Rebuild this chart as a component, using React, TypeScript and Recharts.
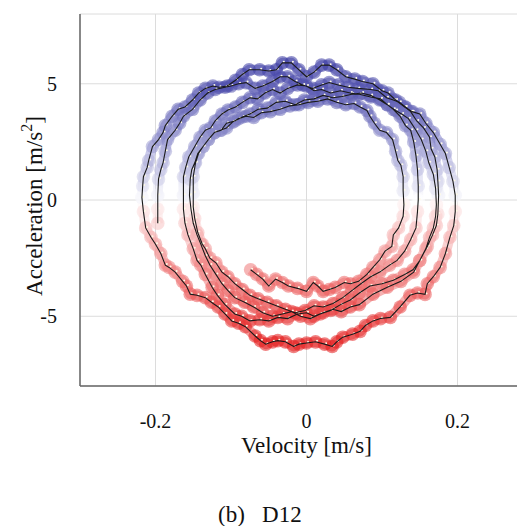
import React from 'react';
import { ScatterChart, Scatter, XAxis, YAxis, CartesianGrid, Label } from 'recharts';

// axis setup
const X_DOMAIN = [-0.3, 0.3];
const Y_DOMAIN = [-8, 8];
const X_TICKS = [-0.2, 0, 0.2];
const Y_TICKS = [-5, 0, 5];

// [velocity m/s, acceleration m/s^2], clockwise
const loopA = [
  [-0.218, 0.1], [-0.217, 0.6], [-0.216, 1.0], [-0.211, 1.4], [-0.209, 1.7], [-0.204, 2.3], [-0.196, 2.6],
  [-0.19, 2.9], [-0.187, 3.2], [-0.178, 3.6], [-0.17, 3.9], [-0.161, 4.0], [-0.151, 4.3], [-0.143, 4.6],
  [-0.134, 4.8], [-0.124, 4.9], [-0.116, 4.85], [-0.105, 4.9], [-0.094, 5.15], [-0.085, 5.4], [-0.076, 5.6],
  [-0.062, 5.6], [-0.05, 5.55], [-0.04, 5.6], [-0.032, 5.9], [-0.02, 5.9], [-0.01, 5.6], [0.0, 5.3],
  [0.01, 5.5], [0.02, 5.8], [0.03, 5.8], [0.04, 5.6], [0.052, 5.3], [0.064, 5.2], [0.074, 5.1], [0.088, 5.0],
  [0.1, 4.7], [0.108, 4.6], [0.118, 4.3], [0.13, 4.0], [0.14, 3.8], [0.15, 3.7], [0.158, 3.3], [0.168, 2.9],
  [0.177, 2.4], [0.184, 2.0], [0.189, 1.4], [0.194, 0.8], [0.197, 0.2], [0.197, -0.5], [0.195, -1.1],
  [0.19, -1.6], [0.184, -2.3], [0.177, -2.9], [0.168, -3.3], [0.16, -3.6], [0.157, -4.06], [0.147, -4.0],
  [0.137, -4.1], [0.124, -4.6], [0.111, -5.05], [0.098, -5.1], [0.088, -5.2], [0.078, -5.4], [0.071, -5.65],
  [0.061, -5.77], [0.048, -5.9], [0.04, -6.1], [0.034, -6.3], [0.024, -6.2], [0.012, -6.1], [0.0, -6.15],
  [-0.01, -6.2], [-0.017, -6.3], [-0.028, -6.1], [-0.038, -6.05], [-0.045, -6.1], [-0.054, -6.2],
  [-0.061, -6.05], [-0.068, -5.85], [-0.081, -5.45], [-0.09, -5.3], [-0.099, -5.2], [-0.108, -4.9],
  [-0.117, -4.6], [-0.126, -4.4], [-0.134, -4.2], [-0.145, -4.1], [-0.154, -4.05], [-0.159, -3.7],
  [-0.164, -3.5], [-0.174, -3.1], [-0.182, -2.9], [-0.187, -2.8], [-0.193, -2.3], [-0.2, -1.9],
  [-0.206, -1.6], [-0.213, -1.2], [-0.216, -0.5], [-0.218, 0.1],
];

const loopB = [
  [-0.197, -1.0], [-0.197, -0.4], [-0.197, 0.2], [-0.196, 0.9], [-0.193, 1.3], [-0.19, 1.6], [-0.187, 2.1],
  [-0.184, 2.6], [-0.174, 3.0], [-0.168, 3.3], [-0.163, 3.6], [-0.151, 3.9], [-0.141, 4.3], [-0.131, 4.6],
  [-0.121, 4.75], [-0.108, 4.85], [-0.1, 4.9], [-0.09, 5.0], [-0.08, 5.05], [-0.068, 4.8], [-0.058, 4.9],
  [-0.045, 5.1], [-0.035, 5.3], [-0.025, 5.3], [-0.015, 5.1], [-0.005, 4.95], [0.008, 4.8], [0.02, 4.95],
  [0.03, 5.05], [0.042, 4.95], [0.055, 4.85], [0.068, 4.8], [0.085, 4.75], [0.095, 4.7], [0.106, 4.4],
  [0.115, 4.3], [0.123, 4.2], [0.131, 4.0], [0.138, 3.8], [0.146, 3.4], [0.155, 3.1], [0.163, 2.7],
  [0.165, 2.2], [0.17, 1.85], [0.173, 1.3], [0.174, 0.8], [0.175, 0.2], [0.174, -0.6], [0.172, -1.1],
  [0.167, -1.5], [0.16, -2.0], [0.15, -2.6], [0.142, -3.1], [0.125, -3.5], [0.107, -3.75], [0.088, -4.05],
  [0.07, -4.5], [0.058, -4.6], [0.046, -4.8], [0.035, -4.7], [0.022, -4.85], [0.01, -5.0], [0.0, -4.85],
  [-0.012, -4.9], [-0.025, -5.1], [-0.038, -5.05], [-0.05, -5.2], [-0.062, -5.15], [-0.075, -5.2],
  [-0.086, -5.0], [-0.095, -4.9], [-0.108, -4.5], [-0.118, -4.1], [-0.125, -3.75], [-0.134, -3.2],
  [-0.14, -2.8], [-0.145, -2.6], [-0.15, -2.1], [-0.157, -1.5], [-0.161, -1.0], [-0.163, -0.4],
];

const loopC = [
  [-0.163, 0.2], [-0.163, 1.0], [-0.16, 1.4], [-0.156, 1.85], [-0.148, 2.3], [-0.141, 2.7], [-0.134, 3.0],
  [-0.127, 3.1], [-0.121, 3.4], [-0.112, 3.7], [-0.104, 3.87], [-0.094, 4.0], [-0.085, 4.2], [-0.075, 4.4],
  [-0.065, 4.35], [-0.055, 4.6], [-0.045, 4.75], [-0.035, 4.6], [-0.025, 4.8], [-0.012, 4.95], [0.0, 4.9],
  [0.01, 4.7], [0.02, 4.75], [0.032, 4.6], [0.045, 4.7], [0.058, 4.6], [0.07, 4.55], [0.085, 4.43],
  [0.098, 4.35], [0.107, 4.1], [0.118, 3.85], [0.126, 3.7], [0.135, 3.5], [0.145, 3.0], [0.152, 2.6],
  [0.158, 2.1], [0.162, 1.6], [0.168, 1.1], [0.171, 0.5], [0.172, -0.2], [0.171, -0.7], [0.168, -1.2],
  [0.163, -1.6], [0.158, -2.1], [0.15, -2.6], [0.141, -3.0], [0.13, -3.2], [0.115, -3.45], [0.1, -3.6],
  [0.084, -3.7], [0.07, -4.0], [0.058, -4.3], [0.045, -4.5], [0.032, -4.75], [0.018, -4.9], [0.005, -5.1],
  [-0.008, -5.0], [-0.02, -4.8], [-0.032, -4.9], [-0.045, -5.0], [-0.058, -4.85], [-0.07, -4.6],
  [-0.082, -4.4], [-0.095, -4.2], [-0.104, -3.9], [-0.112, -3.6], [-0.12, -3.2], [-0.128, -2.8],
  [-0.134, -2.4], [-0.14, -1.9], [-0.145, -1.5], [-0.15, -1.0], [-0.153, -0.4],
];

const loopD = [
  [-0.155, 0.2], [-0.154, 0.9], [-0.152, 1.3], [-0.148, 1.6], [-0.144, 2.0], [-0.137, 2.3], [-0.13, 2.6],
  [-0.122, 2.9], [-0.113, 3.0], [-0.106, 3.3], [-0.095, 3.4], [-0.085, 3.57], [-0.075, 3.7], [-0.064, 3.9],
  [-0.052, 3.95], [-0.04, 4.2], [-0.028, 4.25], [-0.015, 4.1], [-0.003, 4.3], [0.01, 4.35], [0.022, 4.5],
  [0.035, 4.4], [0.047, 4.45], [0.06, 4.55], [0.073, 4.6], [0.085, 4.5], [0.097, 4.3], [0.107, 4.1],
  [0.115, 3.9], [0.124, 3.6], [0.131, 3.2], [0.138, 3.0], [0.142, 2.5], [0.145, 1.9], [0.147, 1.3],
  [0.148, 0.6], [0.148, 0.0], [0.147, -0.5], [0.145, -1.2], [0.138, -1.7], [0.13, -2.2], [0.12, -2.6],
  [0.11, -2.8], [0.097, -3.1], [0.085, -3.3], [0.072, -3.6], [0.06, -3.9], [0.048, -4.2], [0.035, -4.45],
  [0.022, -4.6], [0.01, -4.55], [-0.002, -4.75], [-0.015, -4.85], [-0.028, -4.7], [-0.04, -4.55],
  [-0.052, -4.4], [-0.064, -4.25], [-0.075, -4.1], [-0.085, -3.85], [-0.095, -3.6], [-0.104, -3.3],
  [-0.112, -3.1], [-0.12, -2.7], [-0.128, -2.5], [-0.134, -2.1], [-0.138, -1.9], [-0.144, -1.4],
  [-0.148, -0.8], [-0.15, -0.3],
];

const loopE = [
  [-0.15, 0.3], [-0.15, 1.0], [-0.147, 1.6], [-0.143, 2.0], [-0.137, 2.3], [-0.13, 2.6], [-0.122, 2.9],
  [-0.114, 3.0], [-0.106, 3.1], [-0.098, 3.35], [-0.09, 3.5], [-0.08, 3.6], [-0.07, 3.55], [-0.06, 3.75],
  [-0.048, 3.8], [-0.035, 3.9], [-0.022, 4.05], [-0.01, 4.1], [0.002, 4.2], [0.015, 4.25], [0.028, 4.35],
  [0.04, 4.2], [0.052, 4.1], [0.063, 4.15], [0.071, 4.0], [0.08, 3.85], [0.084, 3.6], [0.09, 3.3],
  [0.097, 3.0], [0.106, 2.9], [0.114, 2.6], [0.118, 2.1], [0.121, 1.7], [0.125, 1.5], [0.128, 1.0],
  [0.128, 0.4], [0.129, -0.2], [0.128, -0.7], [0.122, -1.2], [0.115, -1.5], [0.113, -2.0], [0.104, -2.2],
  [0.097, -2.57], [0.088, -2.9], [0.08, -3.2], [0.069, -3.5], [0.058, -3.6], [0.05, -3.55], [0.038, -3.76],
  [0.03, -3.85], [0.022, -3.93], [0.015, -3.7], [0.009, -3.55], [0.0, -3.93], [-0.012, -3.8],
  [-0.024, -3.7], [-0.032, -3.55], [-0.041, -3.4], [-0.05, -3.7], [-0.058, -3.4], [-0.066, -3.2],
  [-0.074, -3.0],
];

const toPoints = (arr: number[][]) => arr.map(([v, a]) => ({ v, a }));
const outerLoop = toPoints(loopA);
const spiral = toPoints([...loopB, ...loopC, ...loopD, ...loopE]);

const FONT = '"Liberation Serif", "Times New Roman", serif';
const MARGIN = { top: 6, right: 5, bottom: 0, left: 0 };
const CHART_H = 460;
const X_AXIS_H = 82;
const PLOT_H = CHART_H - MARGIN.top - X_AXIS_H;

const BLUE = [52, 52, 160];
const RED = [228, 30, 30];

function accColor(a: number) {
  const t = Math.pow(Math.min(1, Math.abs(a) / 6), 0.75);
  const base = a >= 0 ? BLUE : RED;
  const c = base.map((ch) => Math.round(255 + (ch - 255) * t));
  return `rgb(${c[0]},${c[1]},${c[2]})`;
}

const yPix = (a: number) => MARGIN.top + ((Y_DOMAIN[1] - a) / (Y_DOMAIN[1] - Y_DOMAIN[0])) * PLOT_H;

const Bead = (props: any) => {
  const { cx, cy, payload } = props;
  if (cx == null || cy == null) return <g />;
  return <circle cx={cx} cy={cy} r={6.8} fill={accColor(payload.a)} fillOpacity={0.55} />;
};

const Speck = (props: any) => {
  const { cx, cy } = props;
  if (cx == null || cy == null) return <g />;
  return <circle cx={cx + 1.5} cy={cy - 1} r={1} fill="#fffbe6" />;
};

const Nothing = () => <g />;

const YTitle = (props: any) => {
  const vb = props.viewBox || { x: 0, y: MARGIN.top, width: 72, height: PLOT_H };
  const cx = vb.x + 34;
  const cy = vb.y + vb.height / 2 + 6;
  return (
    <text
      x={cx}
      y={cy}
      transform={`rotate(-90 ${cx} ${cy})`}
      textAnchor="middle"
      fontFamily={FONT}
      fontSize={23}
      fill="#111"
    >
      Acceleration [m/s
      <tspan dy={-10} fontSize={16}>2</tspan>
      <tspan dy={10}>]</tspan>
    </text>
  );
};

const tickStyle = { fontFamily: FONT, fontSize: 20, fill: '#111' };
const bandLine = { stroke: 'url(#accGrad)', strokeWidth: 10, strokeOpacity: 0.45, strokeLinejoin: 'round' };
const blackLine = { stroke: '#1a1a1a', strokeWidth: 1.1 };

export default function App() {
  return (
    <div style={{ position: 'relative', width: 517, height: 518, overflow: 'hidden', background: '#fff' }}>
      <ScatterChart width={530} height={CHART_H} margin={MARGIN}>
        <defs>
          <linearGradient id="accGrad" gradientUnits="userSpaceOnUse" x1="0" x2="0" y1={yPix(6)} y2={yPix(-6)}>
            <stop offset="0%" stopColor="rgb(52,52,160)" />
            <stop offset="30%" stopColor="rgb(115,115,200)" />
            <stop offset="50%" stopColor="#ffffff" />
            <stop offset="70%" stopColor="rgb(240,130,130)" />
            <stop offset="100%" stopColor="rgb(228,30,30)" />
          </linearGradient>
        </defs>
        <CartesianGrid stroke="#dcdcdc" strokeWidth={1} />
        <XAxis
          dataKey="v"
          type="number"
          domain={X_DOMAIN}
          ticks={X_TICKS}
          allowDataOverflow
          height={X_AXIS_H}
          tickLine={false}
          tickSize={0}
          tickMargin={28}
          axisLine={{ stroke: '#666', strokeWidth: 1.5 }}
          tick={tickStyle}
          label={{ value: 'Velocity [m/s]', position: 'insideBottom', offset: 15, style: { fontFamily: FONT, fontSize: 23, fill: '#111' } }}
        />
        <XAxis
          xAxisId="top"
          orientation="top"
          type="number"
          domain={X_DOMAIN}
          ticks={X_TICKS}
          height={0}
          tick={false}
          tickLine={false}
          axisLine={{ stroke: '#777', strokeWidth: 1.5 }}
        />
        <YAxis
          dataKey="a"
          type="number"
          domain={Y_DOMAIN}
          ticks={Y_TICKS}
          allowDataOverflow
          width={72}
          tickLine={false}
          tickSize={0}
          tickMargin={23}
          axisLine={{ stroke: '#666', strokeWidth: 1.5 }}
          tick={tickStyle}
        >
          <Label content={YTitle} />
        </YAxis>
        <Scatter data={outerLoop} isAnimationActive={false} line={bandLine} shape={Bead} />
        <Scatter data={spiral} isAnimationActive={false} line={bandLine} shape={Bead} />
        <Scatter data={outerLoop} isAnimationActive={false} shape={Speck} />
        <Scatter data={spiral} isAnimationActive={false} shape={Speck} />
        <Scatter data={outerLoop} isAnimationActive={false} line={blackLine} shape={Nothing} />
        <Scatter data={spiral} isAnimationActive={false} line={blackLine} shape={Nothing} />
      </ScatterChart>
      <div
        style={{
          position: 'absolute',
          left: 210,
          top: 494,
          fontFamily: FONT,
          fontSize: 23,
          lineHeight: '26px',
          whiteSpace: 'pre',
          color: '#111',
        }}
      >
        {'(b)   D12'}
      </div>
    </div>
  );
}
